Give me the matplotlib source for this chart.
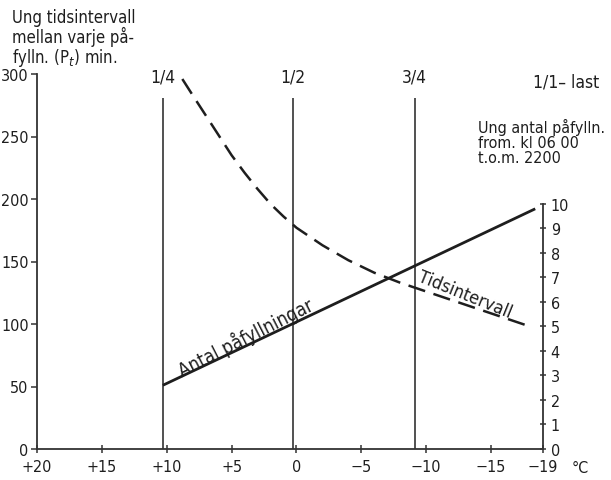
import os
import matplotlib
matplotlib.use('Agg')
import matplotlib.pyplot as plt
from matplotlib import font_manager as fm

# ---- data ----
temp_ticks = [20, 15, 10, 5, 0, -5, -10, -15, -19]
temp_labels = ['+20', '+15', '+10', '+5', '0', '−5', '−10', '−15', '−19']
left_ticks = [0, 50, 100, 150, 200, 250, 300]
right_ticks = [0, 1, 2, 3, 4, 5, 6, 7, 8, 9, 10]

load_temps = [10.3, 0.3, -9.1]
load_labels = ['1/4', '1/2', '3/4']
full_load_label = '1/1– last'

antal_temps = [10.3, -18.4]
antal_vals = [2.6, 9.8]

tid_temps = [8.8, 8.0, 7.0, 6.0, 5.0, 4.0, 3.0, 2.0, 1.0, 0.0, -1.0, -2.0,
             -3.0, -4.0, -6.0, -8.0, -10.0, -12.0, -14.0, -16.0, -18.0]
tid_vals = [296, 283, 267, 251, 235, 221, 208, 196, 186, 177, 170, 163,
            157, 151, 141, 133, 126, 119, 112, 105, 98]


# ---- pick a condensed font if one is installed ----
def pick_condensed():
    order = ['liberationsansnarrow-regular', 'dejavusanscondensed.ttf',
             'robotocondensed-regular', 'opensans_condensed', 'opensanscondensed']
    found = {}
    for f in fm.fontManager.ttflist:
        fn = os.path.basename(f.fname).lower()
        if ('narrow' in fn or 'condensed' in fn) and 'bold' not in fn \
                and 'italic' not in fn and 'oblique' not in fn and 'light' not in fn:
            found[fn] = f.fname
    for key in order:
        for fn, path in found.items():
            if fn.startswith(key.split('.')[0]) or key in fn:
                return path
    for fn, path in found.items():
        return path
    return None


COND = pick_condensed()
SCALE = 1.0 if COND else 0.85


def fp(size):
    if COND:
        return fm.FontProperties(fname=COND, size=size * SCALE)
    return fm.FontProperties(family='DejaVu Sans', size=size * SCALE)


INK = '#1e1e1e'

fig = plt.figure(figsize=(6.11, 4.81), dpi=100)
ax = fig.add_axes([37/611, 31/481, 506/611, 375/481])
ax.set_xlim(20, -19)
ax.set_ylim(0, 300)

ax2 = ax.twinx()
ax2.set_ylim(0, 15.3)

# vertical load lines
ax.vlines(load_temps, 0, 281, color='#333333', lw=1.2)
for t, lab in zip(load_temps, load_labels):
    ax.text(t, 298, lab, ha='center', va='center', fontproperties=fp(12.5), color=INK)
ax.text(-18.2, 294, full_load_label, ha='left', va='center', fontproperties=fp(12.5),
        color=INK, clip_on=False)

# curves
ax2.plot(antal_temps, antal_vals, color=INK, lw=2.0, solid_capstyle='butt')
ax.plot(tid_temps, tid_vals, color=INK, lw=1.8, dashes=(7, 3.5))

ax.text(3.96, 90, 'Antal påfyllningar', rotation=27, rotation_mode='anchor',
        ha='center', va='center', fontproperties=fp(13.5), color=INK)
ax.text(-13.0, 124, 'Tidsintervall', rotation=-22, rotation_mode='anchor',
        ha='center', va='center', fontproperties=fp(13), color=INK)

# spines / ticks
for s in ['top', 'right']:
    ax.spines[s].set_visible(False)
for s in ['top', 'left', 'bottom']:
    ax2.spines[s].set_visible(False)
ax.spines['left'].set_bounds(0, 300)
ax.spines['bottom'].set_bounds(20, -19)
ax2.spines['right'].set_bounds(0, 10)
for sp in [ax.spines['left'], ax.spines['bottom'], ax2.spines['right']]:
    sp.set_linewidth(1.3)
    sp.set_color('#333333')

ax.set_xticks(temp_ticks)
ax.set_xticklabels(temp_labels)
ax.set_yticks(left_ticks)
ax2.set_yticks(right_ticks)
ax.tick_params(axis='x', direction='inout', length=6, width=1.1, colors='#333333',
               labelcolor=INK, pad=4)
ax.tick_params(axis='y', direction='out', length=4, width=1.1, colors='#333333',
               labelcolor=INK, pad=2)
ax2.tick_params(axis='y', direction='inout', length=5, width=1.1, colors='#333333',
                labelcolor=INK, pad=3)
for lab in ax.get_xticklabels() + ax.get_yticklabels() + ax2.get_yticklabels():
    lab.set_fontproperties(fp(11.5))

fig.text(572/611, 1-469/481, '°C', ha='left', va='center', fontproperties=fp(11.5),
         color=INK)

fig.text(12/611, 1-9/481, 'Ung tidsintervall\nmellan varje på-\nfylln. (P$_t$) min.',
         ha='left', va='top', fontproperties=fp(12), color=INK, linespacing=1.0)
fig.text(478/611, 1-119/481, 'Ung antal påfylln.\nfrom. kl 06 00\nt.o.m. 2200',
         ha='left', va='top', fontproperties=fp(11.5), color=INK, linespacing=1.0)

fig.savefig('out.png', dpi=100, facecolor='white')
